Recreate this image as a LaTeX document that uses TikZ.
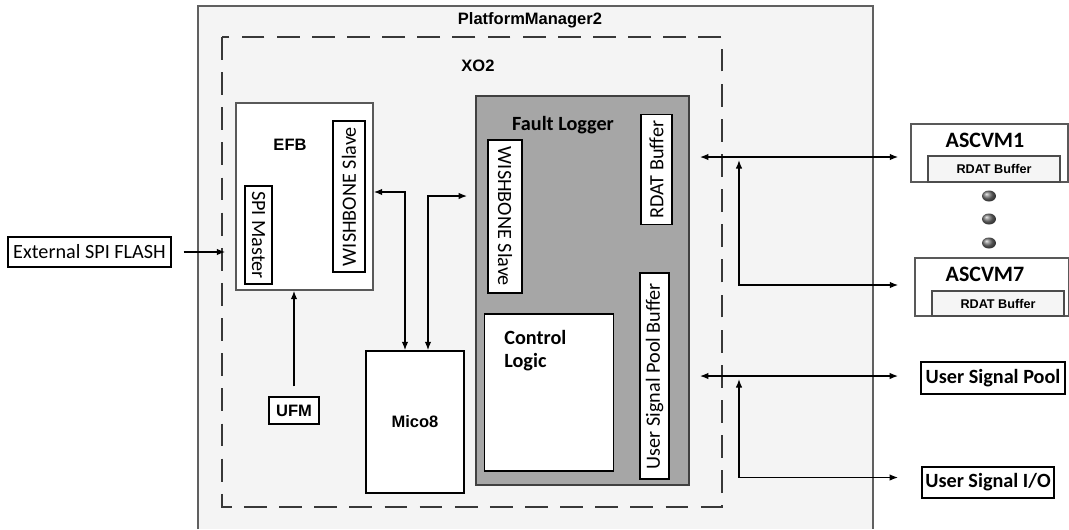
\documentclass[tikz,border=0pt]{standalone}
\usepackage{fontspec}
\setmainfont{Carlito}
\newfontfamily\arialfont{Liberation Sans}
\usetikzlibrary{arrows.meta,calc,positioning}

\begin{document}
\begin{tikzpicture}[x=0.02cm,y=-0.02cm,
  box/.style={draw=black,fill=white,line width=0.8pt,inner sep=0pt},
  both/.style={{Latex[length=1.7mm,width=1.3mm]}-{Latex[length=1.7mm,width=1.3mm]},line width=0.8pt},
  arr/.style={-{Latex[length=1.7mm,width=1.3mm]},line width=0.8pt},
  lbl/.style={font=\arialfont\bfseries\fontsize{9.4}{11}\selectfont},
  cal/.style={font=\fontsize{11.5}{13}\selectfont},
  calb/.style={font=\bfseries\fontsize{11.5}{13}\selectfont},
  ascb/.style={font=\bfseries\fontsize{12.5}{14}\selectfont},
  buf/.style={draw=gray!60!black,fill=gray!8,line width=0.8pt,inner sep=0pt,
    font=\arialfont\bfseries\fontsize{7.2}{8}\selectfont}]

\useasboundingbox (0,0) rectangle (1069,529);
\fill[white] (0,0) rectangle (1069,529);

% PlatformManager2 and XO2
\filldraw[fill=gray!9, draw=gray!75!black, line width=1.1pt] (198,529) -- (198,6) -- (873,6) -- (873,529);
\node[lbl] (pm) at (530,20) {PlatformManager2};
\draw[black!78, line width=1.1pt, dash pattern=on 13pt off 7pt] (222,37) rectangle (722,507);
\node[lbl] (xo2) at (478,66) {XO2};

% EFB
\node[box, draw=gray!70!black, minimum width=2.74cm, minimum height=3.74cm] (efb) at (304.5,196.5) {};
\node[lbl] (efbtxt) at (290,145) {EFB};
\node[box, cal, rotate=90, minimum width=3.02cm, minimum height=0.64cm] (efbwb) at (349,196.5) {WISHBONE Slave};
\node[box, cal, rotate=-90, minimum width=1.96cm, minimum height=0.54cm] (spi) at (258.5,235) {SPI Master};
\node[box, cal, minimum width=3.26cm, minimum height=0.6cm] (flash) at (89.5,252) {External SPI FLASH};
\node[box, lbl, minimum width=1cm, minimum height=0.54cm] (ufm) at (294,410.5) {UFM};
\node[box, lbl, minimum width=1.96cm, minimum height=2.84cm] (mico) at (415,422) {Mico8};

% Fault Logger
\node[draw=black!75, fill=gray!70, line width=1pt, minimum width=4.26cm, minimum height=7.78cm] (fl) at (582.5,290.5) {};
\node[calb] (fltxt) at (563,125) {Fault Logger};
\node[box, cal, rotate=-90, minimum width=3.06cm, minimum height=0.68cm] (flwb) at (505,216.5) {WISHBONE Slave};
\node[box, cal, rotate=90, minimum width=2.2cm, minimum height=0.62cm] (rdat) at (656.5,169.5) {RDAT Buffer};
\node[box, cal, rotate=90, minimum width=4.12cm, minimum height=0.58cm] (uspb) at (654.5,376) {User Signal Pool Buffer};
\node[box, minimum width=2.58cm, minimum height=3.14cm] (ctrl) at (549,392.5) {};
\node[calb, align=left, anchor=west, inner sep=0pt] (ctrltxt) at (504,350.5) {Control\\Logic};

% outside blocks
\node[draw=gray!70!black, fill=white, line width=0.8pt, minimum width=3.14cm, minimum height=1.16cm] (asc1) at (989.5,153) {};
\node[ascb] (asc1txt) at (985,140) {ASCVM1};
\node[buf, minimum width=2.64cm, minimum height=0.52cm] (asc1buf) at (994,169) {RDAT Buffer};
\node[draw=gray!70!black, fill=white, line width=0.8pt, minimum width=3.08cm, minimum height=1.16cm] (asc7) at (992,287) {};
\node[ascb] (asc7txt) at (985,274) {ASCVM7};
\node[buf, minimum width=2.64cm, minimum height=0.5cm] (asc7buf) at (998,303.5) {RDAT Buffer};
\shade[ball color=gray!90!black] (989,196) ellipse (0.14cm and 0.11cm);
\shade[ball color=gray!90!black] (989,219) ellipse (0.14cm and 0.11cm);
\shade[ball color=gray!90!black] (989,243) ellipse (0.14cm and 0.11cm);
\node[box, calb, line width=1pt, minimum width=2.88cm, minimum height=0.64cm] (usp) at (993,378) {User Signal Pool};
\node[box, calb, line width=1pt, minimum width=2.64cm, minimum height=0.62cm] (usio) at (988,482.5) {User Signal I/O};

% connections
\draw[arr, shorten <=0.24cm, shorten >=0.2cm] (flash.east) -- (flash.east -| efb.west);
\draw[arr, shorten <=0.2cm] (ufm.north) -- (efb.south -| ufm.north);
\draw[both] ($(mico.north)+(-10,0)$) |- ($(efb.east)+(0,-4.5)$);
\draw[both, shorten >=0.16cm] ($(mico.north)+(13,0)$) |- ($(fl.west)+(0,-94.5)$);

\coordinate (rbus) at (739,157);
\coordinate (ubus) at (739,376);
\draw[both, shorten <=0.2cm, shorten >=0.24cm] (fl.east |- rbus) -- (asc1.west |- rbus);
\draw[both, shorten <=0.32cm, shorten >=0.06cm] ($(asc7.west)+(0,-2)$) -| (rbus);
\draw[both, shorten <=0.2cm, shorten >=0.44cm] (fl.east |- ubus) -- (usp.west |- ubus);
\draw[both, shorten <=0.46cm, shorten >=0.06cm] ($(usio.west)+(0,-5)$) -| (ubus);

\end{tikzpicture}
\end{document}
